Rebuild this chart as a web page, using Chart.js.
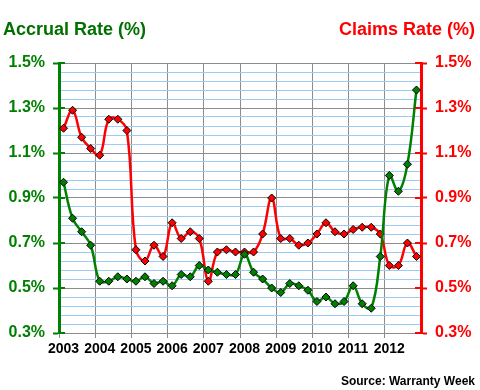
<!DOCTYPE html>
<html>
<head>
<meta charset="utf-8">
<script src="https://cdn.jsdelivr.net/npm/chart.js@4/dist/chart.umd.min.js"></script>
<style>
  html, body { margin: 0; padding: 0; background: #fff; }
  #wrap { position: relative; width: 480px; height: 390px; overflow: hidden; }
  canvas { position: absolute; left: 0; top: 0; }
  .lbl { position: absolute; font-family: "Liberation Sans", Arial, sans-serif; font-weight: bold; white-space: nowrap; }
  #tl { left: 3px; top: 19px; font-size: 18px; line-height: 20px; color: #007000; }
  #tr { right: 5px; top: 19px; font-size: 18px; line-height: 20px; color: #ff0000; }
  #src { right: 5px; top: 374px; font-size: 12px; line-height: 14px; color: #000; }
</style>
</head>
<body>
<div id="wrap">
  <canvas id="c" width="480" height="390"></canvas>
  <div class="lbl" id="tl">Accrual Rate (%)</div>
  <div class="lbl" id="tr">Claims Rate (%)</div>
  <div class="lbl" id="src">Source: Warranty Week</div>
</div>
<script>
const years = ['2003','2004','2005','2006','2007','2008','2009','2010','2011','2012'];
const quarterNames = ['Q1','Q2','Q3','Q4'];
const accrualRate = [0.97,0.81,0.75,0.69, 0.53,0.53,0.55,0.54, 0.53,0.55,0.52,0.53, 0.51,0.56,0.55,0.60,
                     0.58,0.57,0.56,0.56, 0.65,0.57,0.54,0.50, 0.48,0.52,0.51,0.49, 0.44,0.46,0.43,0.44,
                     0.51,0.43,0.41,0.64, 1.00,0.93,1.05,1.38];
const claimsRate  = [1.21,1.29,1.17,1.12, 1.09,1.25,1.25,1.20, 0.67,0.62,0.69,0.64, 0.79,0.72,0.75,0.72,
                     0.53,0.66,0.67,0.66, 0.66,0.66,0.74,0.90, 0.72,0.72,0.69,0.70, 0.74,0.79,0.75,0.74,
                     0.76,0.77,0.77,0.74, 0.60,0.60,0.70,0.64];
const yMin = 0.3, yMax = 1.5, yMajorStep = 0.2, yMinorStep = 0.04;

const quarterLabels = years.flatMap(y => quarterNames.map(q => y + ' ' + q));

const GREEN = '#008000', RED = '#ff0000', GRAY = '#8c8c8c', LIGHTBLUE = '#9ccbf3';
const FONT = '"Liberation Sans", Arial, sans-serif';
const isMajor = v => Math.abs(Math.round((v - yMin) * 100) % Math.round(yMajorStep * 100)) === 0;
const fmt = v => (Math.round(v * 10) / 10).toFixed(1) + '%';

const innerTicks = {
  id: 'innerTicks',
  afterDraw(chart) {
    const ctx = chart.ctx;
    [['y', GREEN, 1], ['y2', RED, -1]].forEach(([id, col, dir]) => {
      const s = chart.scales[id];
      const x = dir > 0 ? s.right : s.left;
      ctx.save();
      ctx.strokeStyle = col;
      ctx.lineWidth = 2;
      for (let v = yMin; v <= yMax + 1e-9; v += yMajorStep) {
        const y = Math.round(s.getPixelForValue(v));
        ctx.beginPath();
        ctx.moveTo(x, y);
        ctx.lineTo(x + dir * 6, y);
        ctx.stroke();
      }
      ctx.restore();
    });
  }
};

new Chart(document.getElementById('c'), {
  type: 'line',
  data: {
    labels: quarterLabels,
    datasets: [
      {
        label: 'Accrual Rate (%)', data: accrualRate, yAxisID: 'y',
        borderColor: GREEN, borderWidth: 2.5, tension: 0.4,
        pointStyle: 'rectRot', pointRadius: 4, pointBackgroundColor: GREEN,
        pointBorderColor: '#000', pointBorderWidth: 1, fill: false
      },
      {
        label: 'Claims Rate (%)', data: claimsRate, yAxisID: 'y2',
        borderColor: RED, borderWidth: 2.5, tension: 0.4,
        pointStyle: 'rectRot', pointRadius: 4, pointBackgroundColor: RED,
        pointBorderColor: '#000', pointBorderWidth: 1, fill: false
      }
    ]
  },
  options: {
    responsive: false,
    animation: false,
    devicePixelRatio: 1,
    layout: { padding: { top: 63, left: 0, right: 0, bottom: 0 } },
    plugins: { legend: { display: false }, title: { display: false }, tooltip: { enabled: false } },
    scales: {
      x: {
        type: 'category',
        offset: true,
        afterFit: s => { s.height = 57; },
        grid: {
          offset: true,
          color: c => (c.index % 4 === 0 ? GRAY : 'rgba(0,0,0,0)'),
          tickColor: c => (c.index % 4 === 0 ? GRAY : 'rgba(0,0,0,0)'),
          lineWidth: 1,
          tickLength: 5
        },
        border: { color: GRAY, width: 1 },
        ticks: {
          autoSkip: false, maxRotation: 0, minRotation: 0, padding: 3,
          color: '#000', font: { family: FONT, size: 14, weight: 'bold' },
          callback: (v, i) => (i % 4 === 0 ? years[i / 4] : '')
        }
      },
      y: {
        position: 'left',
        min: yMin, max: yMax,
        afterFit: s => { s.width = 59; },
        ticks: {
          stepSize: yMinorStep, autoSkip: false, padding: 8,
          color: GREEN, font: { family: FONT, size: 16, weight: 'bold' },
          callback: v => (isMajor(v) ? fmt(v) : '')
        },
        grid: {
          color: c => (isMajor(c.tick.value) ? GRAY : LIGHTBLUE),
          tickColor: c => (isMajor(c.tick.value) ? GREEN : 'rgba(0,0,0,0)'),
          tickLength: 6, tickWidth: 2, lineWidth: 1
        },
        border: { color: GREEN, width: 3 }
      },
      y2: {
        position: 'right',
        min: yMin, max: yMax,
        afterFit: s => { s.width = 59; },
        ticks: {
          stepSize: yMinorStep, autoSkip: false, padding: 8,
          color: RED, font: { family: FONT, size: 16, weight: 'bold' },
          callback: v => (isMajor(v) ? fmt(v) : '')
        },
        grid: {
          drawOnChartArea: false,
          tickColor: c => (isMajor(c.tick.value) ? RED : 'rgba(0,0,0,0)'),
          tickLength: 6, tickWidth: 2
        },
        border: { color: RED, width: 3 }
      }
    }
  },
  plugins: [innerTicks]
});
</script>
</body>
</html>
